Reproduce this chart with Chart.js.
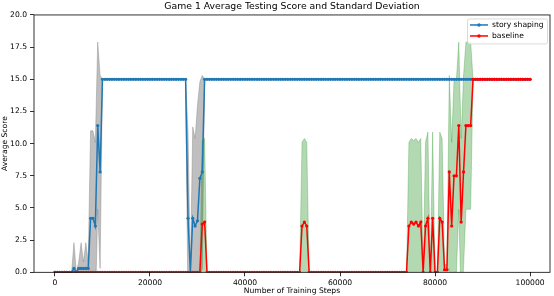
<!DOCTYPE html>
<html>
<head>
<meta charset="utf-8">
<script src="https://cdn.jsdelivr.net/npm/chart.js@4.4.0/dist/chart.umd.min.js"></script>
<style>
  html, body { margin: 0; padding: 0; background: #fff; }
</style>
</head>
<body>
<canvas id="chart" width="554" height="296"></canvas>
<script>
// evaluation every 500 training steps, index 0 .. 200
const STEP = 500;

const storyMean = [
  0, 0, 0, 0, 0, 0, 0, 0, 0.3, 0,
  0.3, 0.3, 0.3, 0.3, 0.3, 4.2, 4.2, 3.6, 11.4, 7.8,
  15, 15, 15, 15, 15, 15, 15, 15, 15, 15,
  15, 15, 15, 15, 15, 15, 15, 15, 15, 15,
  15, 15, 15, 15, 15, 15, 15, 15, 15, 15,
  15, 15, 15, 15, 15, 15, 4.2, 0, 4.2, 3.6,
  4.0, 7.3, 7.8, 15, 15, 15, 15, 15, 15, 15,
  15, 15, 15, 15, 15, 15, 15, 15, 15, 15,
  15, 15, 15, 15, 15, 15, 15, 15, 15, 15,
  15, 15, 15, 15, 15, 15, 15, 15, 15, 15,
  15, 15, 15, 15, 15, 15, 15, 15, 15, 15,
  15, 15, 15, 15, 15, 15, 15, 15, 15, 15,
  15, 15, 15, 15, 15, 15, 15, 15, 15, 15,
  15, 15, 15, 15, 15, 15, 15, 15, 15, 15,
  15, 15, 15, 15, 15, 15, 15, 15, 15, 15,
  15, 15, 15, 15, 15, 15, 15, 15, 15, 15,
  15, 15, 15, 15, 15, 15, 15, 15, 15, 15,
  15, 15, 15, 15, 15, 15, 15, 15, 15, 15,
  15, 15, 15, 15, 15, 15, 15, 15, 15, 15,
  15, 15, 15, 15, 15, 15, 15, 15, 15, 15,
  15
];

const storyStd = [
  0, 0, 0, 0, 0, 0, 0, 0, 2.0, 0,
  0.5, 2.0, 0.5, 2.0, 0.5, 6.8, 6.8, 6.5, 6.5, 7.5,
  0, 0, 0, 0, 0, 0, 0, 0, 0, 0,
  0, 0, 0, 0, 0, 0, 0, 0, 0, 0,
  0, 0, 0, 0, 0, 0, 0, 0, 0, 0,
  0, 0, 0, 0, 0, 0, 6.8, 0, 7.1, 6.8,
  9.0, 7.5, 7.5, 0, 0, 0, 0, 0, 0, 0,
  0, 0, 0, 0, 0, 0, 0, 0, 0, 0,
  0, 0, 0, 0, 0, 0, 0, 0, 0, 0,
  0, 0, 0, 0, 0, 0, 0, 0, 0, 0,
  0, 0, 0, 0, 0, 0, 0, 0, 0, 0,
  0, 0, 0, 0, 0, 0, 0, 0, 0, 0,
  0, 0, 0, 0, 0, 0, 0, 0, 0, 0,
  0, 0, 0, 0, 0, 0, 0, 0, 0, 0,
  0, 0, 0, 0, 0, 0, 0, 0, 0, 0,
  0, 0, 0, 0, 0, 0, 0, 0, 0, 0,
  0, 0, 0, 0, 0, 0, 0, 0, 0, 0,
  0, 0, 0, 0, 0, 0, 0, 0, 0, 0,
  0, 0, 0, 0, 0, 0, 0, 0, 0, 0,
  0, 0, 0, 0, 0, 0, 0, 0, 0, 0,
  0
];

const baseMean = [
  0, 0, 0, 0, 0, 0, 0, 0, 0, 0,
  0, 0, 0, 0, 0, 0, 0, 0, 0, 0,
  0, 0, 0, 0, 0, 0, 0, 0, 0, 0,
  0, 0, 0, 0, 0, 0, 0, 0, 0, 0,
  0, 0, 0, 0, 0, 0, 0, 0, 0, 0,
  0, 0, 0, 0, 0, 0, 0, 0, 0, 0,
  0, 0, 3.75, 3.9, 0, 0, 0, 0, 0, 0,
  0, 0, 0, 0, 0, 0, 0, 0, 0, 0,
  0, 0, 0, 0, 0, 0, 0, 0, 0, 0,
  0, 0, 0, 0, 0, 0, 0, 0, 0, 0,
  0, 0, 0, 0, 3.6, 3.9, 3.6, 0, 0, 0,
  0, 0, 0, 0, 0, 0, 0, 0, 0, 0,
  0, 0, 0, 0, 0, 0, 0, 0, 0, 0,
  0, 0, 0, 0, 0, 0, 0, 0, 0, 0,
  0, 0, 0, 0, 0, 0, 0, 0, 0, 3.6,
  3.9, 3.75, 3.9, 3.6, 3.9, 0, 3.6, 4.2, 0, 4.2,
  0, 0, 4.2, 3.9, 0.2, 0.2, 7.8, 3.6, 7.5, 7.5,
  11.4, 3.9, 7.8, 11.4, 11.4, 11.4, 15, 15, 15, 15,
  15, 15, 15, 15, 15, 15, 15, 15, 15, 15,
  15, 15, 15, 15, 15, 15, 15, 15, 15, 15,
  15
];

const baseStd = [
  0, 0, 0, 0, 0, 0, 0, 0, 0, 0,
  0, 0, 0, 0, 0, 0, 0, 0, 0, 0,
  0, 0, 0, 0, 0, 0, 0, 0, 0, 0,
  0, 0, 0, 0, 0, 0, 0, 0, 0, 0,
  0, 0, 0, 0, 0, 0, 0, 0, 0, 0,
  0, 0, 0, 0, 0, 0, 0, 0, 0, 0,
  0, 0, 6.5, 6.5, 0, 0, 0, 0, 0, 0,
  0, 0, 0, 0, 0, 0, 0, 0, 0, 0,
  0, 0, 0, 0, 0, 0, 0, 0, 0, 0,
  0, 0, 0, 0, 0, 0, 0, 0, 0, 0,
  0, 0, 0, 0, 6.5, 6.5, 6.5, 0, 0, 0,
  0, 0, 0, 0, 0, 0, 0, 0, 0, 0,
  0, 0, 0, 0, 0, 0, 0, 0, 0, 0,
  0, 0, 0, 0, 0, 0, 0, 0, 0, 0,
  0, 0, 0, 0, 0, 0, 0, 0, 0, 6.5,
  6.5, 6.5, 6.5, 6.5, 6.5, 0, 6.5, 6.7, 0, 6.7,
  0, 0, 6.7, 6.5, 0.4, 0.4, 7.5, 6.5, 7.5, 7.5,
  6.5, 6.5, 7.5, 6.5, 6.5, 6.5, 0, 0, 0, 0,
  0, 0, 0, 0, 0, 0, 0, 0, 0, 0,
  0, 0, 0, 0, 0, 0, 0, 0, 0, 0,
  0
];

const xTicks = [0, 20000, 40000, 60000, 80000, 100000];
const yTicks = [0, 2.5, 5, 7.5, 10, 12.5, 15, 17.5, 20];

const BLUE = '#1f77b4';
const RED = '#ff0000';

const pts = (arr) => arr.map((v, i) => ({ x: i * STEP, y: v }));
const band = (mean, std, sign) => mean.map((v, i) => ({ x: i * STEP, y: v + sign * std[i] }));

Chart.defaults.font.family = '"DejaVu Sans", sans-serif';
Chart.defaults.color = '#000';

// top/right spines like matplotlib
const framePlugin = {
  id: 'frame',
  afterDatasetsDraw(chart) {
    const { ctx, chartArea: a } = chart;
    ctx.save();
    ctx.strokeStyle = '#000';
    ctx.lineWidth = 0.8;
    ctx.strokeRect(a.left, a.top, a.right - a.left, a.bottom - a.top);
    ctx.restore();
  }
};

// legend box in upper right corner
const boxLegend = {
  id: 'boxLegend',
  afterDraw(chart) {
    const { ctx, chartArea: a } = chart;
    const items = chart.data.datasets.filter(d => d.showInLegend);
    const left = a.right - 82.5, top = a.top + 4, w = 80, h = 25;
    ctx.save();
    ctx.fillStyle = 'rgba(255,255,255,0.8)';
    ctx.strokeStyle = '#d0d0d0';
    ctx.lineWidth = 0.8;
    ctx.beginPath();
    if (ctx.roundRect) ctx.roundRect(left, top, w, h, 2); else ctx.rect(left, top, w, h);
    ctx.fill();
    ctx.stroke();
    ctx.font = '7.6px "DejaVu Sans"';
    ctx.textBaseline = 'middle';
    items.forEach((d, k) => {
      const y = top + 6 + k * 11;
      ctx.strokeStyle = d.borderColor;
      ctx.lineWidth = 1.5;
      ctx.beginPath();
      ctx.moveTo(left + 2.5, y);
      ctx.lineTo(left + 20.5, y);
      ctx.stroke();
      ctx.fillStyle = d.borderColor;
      ctx.beginPath();
      ctx.arc(left + 11.5, y, 1.7, 0, Math.PI * 2);
      ctx.fill();
      ctx.fillStyle = '#000';
      ctx.fillText(d.label, left + 24.5, y + 0.5);
    });
    ctx.restore();
  }
};

new Chart(document.getElementById('chart'), {
  type: 'line',
  data: {
    datasets: [
      {
        label: 'story shaping', showInLegend: true, order: 1,
        data: pts(storyMean), borderColor: BLUE, backgroundColor: BLUE,
        borderWidth: 1.5, pointRadius: 1.6, pointBorderWidth: 0, fill: false
      },
      {
        label: 'baseline', showInLegend: true, order: 0,
        data: pts(baseMean), borderColor: RED, backgroundColor: RED,
        borderWidth: 1.5, pointRadius: 1.6, pointBorderWidth: 0, fill: false
      },
      {
        label: 'story upper', order: 3, data: band(storyMean, storyStd, 1),
        borderColor: 'rgba(128,128,128,0.5)', borderWidth: 0.8, pointRadius: 0,
        backgroundColor: 'rgba(128,128,128,0.5)', fill: 3
      },
      {
        label: 'story lower', order: 3, data: band(storyMean, storyStd, -1),
        borderColor: 'rgba(128,128,128,0.5)', borderWidth: 0.8, pointRadius: 0, fill: false
      },
      {
        label: 'baseline upper', order: 2, data: band(baseMean, baseStd, 1),
        borderColor: 'rgba(0,128,0,0.3)', borderWidth: 0.8, pointRadius: 0,
        backgroundColor: 'rgba(0,128,0,0.3)', fill: 5
      },
      {
        label: 'baseline lower', order: 2, data: band(baseMean, baseStd, -1),
        borderColor: 'rgba(0,128,0,0.3)', borderWidth: 0.8, pointRadius: 0, fill: false
      }
    ]
  },
  options: {
    responsive: false,
    animation: false,
    events: [],
    layout: { padding: { left: 0, right: 3, top: 0, bottom: 0 } },
    elements: { line: { tension: 0 } },
    plugins: {
      legend: { display: false },
      tooltip: { enabled: false },
      title: {
        display: true,
        fullSize: false,
        text: 'Game 1 Average Testing Score and Standard Deviation',
        font: { size: 9.3, weight: 'normal' },
        color: '#000',
        padding: { top: 1.5, bottom: 2.3 }
      }
    },
    scales: {
      x: {
        type: 'linear',
        min: -4412,
        max: 104200,
        afterBuildTicks: s => { s.ticks = xTicks.map(v => ({ value: v })); },
        afterFit: s => { s.height = 23.7; },
        ticks: { font: { size: 7.6 }, padding: 2, maxRotation: 0, autoSkip: false, callback: v => String(v) },
        grid: { display: true, drawOnChartArea: false, drawTicks: true, tickLength: 4, color: '#000', lineWidth: 0.8 },
        border: { display: false },
        title: { display: true, text: 'Number of Training Steps', font: { size: 7.6 }, padding: { top: 0, bottom: 0 } }
      },
      y: {
        min: 0,
        max: 20,
        afterBuildTicks: s => { s.ticks = yTicks.map(v => ({ value: v })); },
        afterFit: s => { s.width = 34; },
        ticks: { font: { size: 7.6 }, padding: 3, autoSkip: false, callback: v => v.toFixed(1) },
        grid: { display: true, drawOnChartArea: false, drawTicks: true, tickLength: 4, color: '#000', lineWidth: 0.8 },
        border: { display: false },
        title: { display: true, text: 'Average Score', font: { size: 7.6 }, padding: { top: 0, bottom: 0 } }
      }
    }
  },
  plugins: [framePlugin, boxLegend]
});
</script>
</body>
</html>
